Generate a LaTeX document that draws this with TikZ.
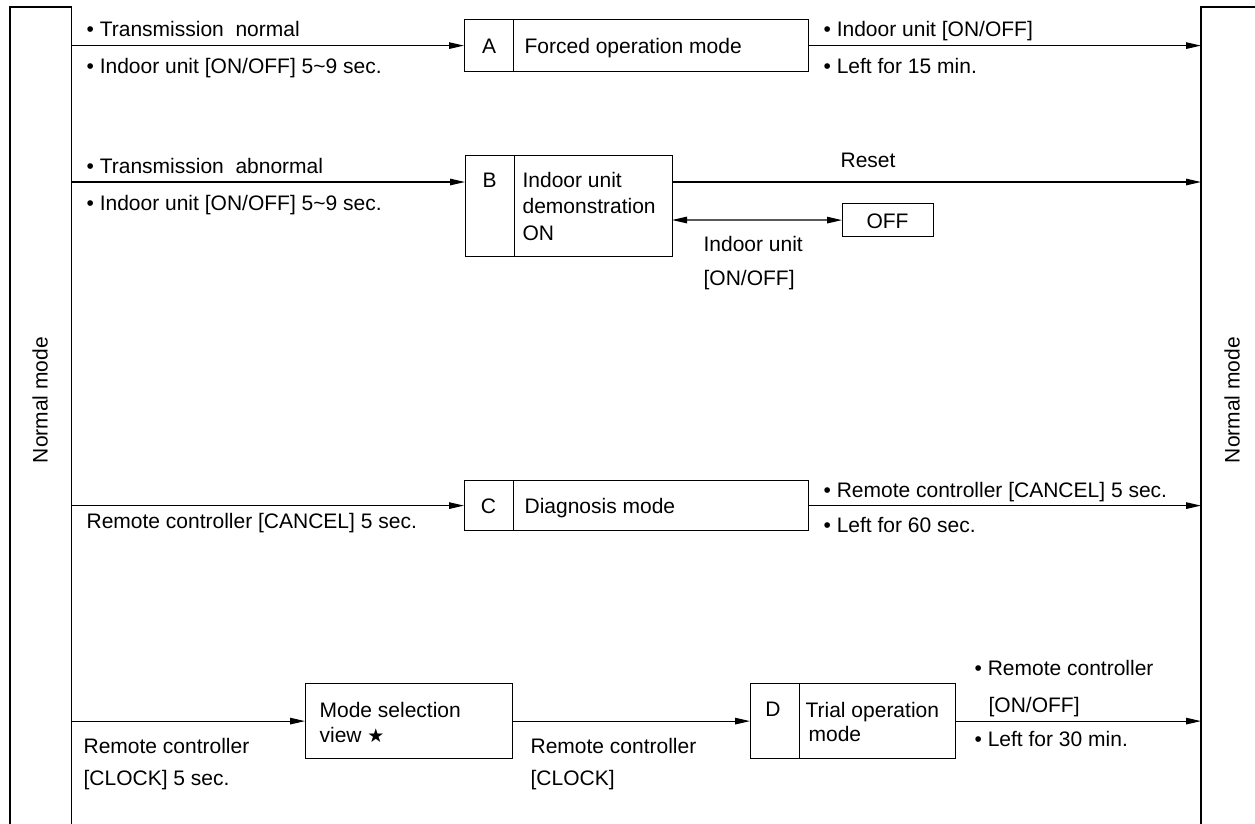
\documentclass[tikz,border=0pt]{standalone}
\usepackage{fontspec}
\setmainfont{Liberation Sans}
\newfontfamily\symfont{DejaVu Sans}
\usetikzlibrary{arrows.meta}
\begin{document}
\begin{tikzpicture}[x=1pt,y=-1pt, line width=1.2pt,
 every node/.style={font=\fontsize{21}{25}\selectfont, inner sep=0pt},
 box/.style={draw, anchor=north west},
 lbl/.style={anchor=base west},
 ctr/.style={anchor=base},
 arr/.style={-{Triangle[length=15pt,width=6.5pt]}},
 darr/.style={{Triangle[length=15pt,width=6.5pt]}-{Triangle[length=15pt,width=6.5pt]}}]
\useasboundingbox (0,0) rectangle (1255,823);
% side bars
\node[anchor=north west, minimum width=60pt, minimum height=830pt] (Lbar) at (10,7) {};
\draw (Lbar.south west) -- (Lbar.north west) -- (Lbar.north east) -- (Lbar.south east);
\node[rotate=90] (Ltxt) at (40,400) {Normal mode};
\node[anchor=north west, minimum width=80pt, minimum height=830pt] (Rbar) at (1201,7) {};
\draw (Rbar.south west) -- (Rbar.north west) -- (Rbar.north east);
\node[rotate=90] (Rtxt) at (1232,400) {Normal mode};
% Row A
\node[box, minimum width=49pt, minimum height=52pt] (Ak) at (464,19) {};
\node[box, minimum width=295pt, minimum height=52pt] (Am) at (513,19) {};
\node[ctr] (Al) at (489,53) {A};
\node[lbl] (At) at (524,53) {Forced operation mode};
\draw[arr] (Lbar.east |- Ak.west) -- (Ak.west);
\draw[arr] (Am.east) -- (Am.east -| Rbar.west);
\node[lbl] (a1) at (86,36) {• Transmission\ \ normal};
\node[lbl] (a2) at (86,73) {• Indoor unit [ON/OFF] 5\textasciitilde 9 sec.};
\node[lbl] (a3) at (823,36) {• Indoor unit [ON/OFF]};
\node[lbl] (a4) at (823,73) {• Left for 15 min.};
% Row B
\node[box, minimum width=49pt, minimum height=101pt] (Bk) at (465,155) {};
\node[box, minimum width=158pt, minimum height=101pt] (Bm) at (514,155) {};
\node[ctr] (Bl) at (489.5,187) {B};
\node[lbl] (Bt1) at (522,187) {Indoor unit};
\node[lbl] (Bt2) at (522,213) {demonstration};
\node[lbl] (Bt3) at (522,240) {ON};
\coordinate (Bin) at (465,182);
\coordinate (Bout) at (672,182);
\coordinate (Bdbl) at (672,220);
\node[box, minimum width=91pt, minimum height=33pt] (OFF) at (842,203) {};
\node[ctr] (OFFt) at (887.5,228) {OFF};
\draw[arr] (Lbar.east |- Bin) -- (Bin);
\draw[arr] (Bout) -- (Bout -| Rbar.west);
\draw[darr] (Bdbl) -- (OFF.west);
\node[lbl] (b1) at (86,173) {• Transmission\ \ abnormal};
\node[lbl] (b2) at (86,210) {• Indoor unit [ON/OFF] 5\textasciitilde 9 sec.};
\node[lbl] (b3) at (840,167) {Reset};
\node[lbl] (b4) at (703,251) {Indoor unit};
\node[lbl] (b5) at (703,285) {[ON/OFF]};
% Row C
\node[box, minimum width=49pt, minimum height=50pt] (Ck) at (464,480) {};
\node[box, minimum width=295pt, minimum height=50pt] (Cm) at (513,480) {};
\node[ctr] (Cl) at (488.5,513) {C};
\node[lbl] (Ct) at (524,513) {Diagnosis mode};
\draw[arr] (Lbar.east |- Ck.west) -- (Ck.west);
\draw[arr] (Cm.east) -- (Cm.east -| Rbar.west);
\node[lbl] (c1) at (86,528) {Remote controller [CANCEL] 5 sec.};
\node[lbl] (c2) at (823,497) {• Remote controller [CANCEL] 5 sec.};
\node[lbl] (c3) at (823,532) {• Left for 60 sec.};
% Row D
\node[box, minimum width=207pt, minimum height=75pt] (M) at (305,683) {};
\node[lbl] (Mt1) at (319,717) {Mode selection};
\node[lbl] (Mt2) at (319,742) {view {\symfont\fontsize{19}{21}\selectfont ★}};
\node[box, minimum width=49pt, minimum height=75pt] (Dk) at (750,683) {};
\node[box, minimum width=156pt, minimum height=75pt] (Dm) at (799,683) {};
\node[ctr] (Dl) at (773,716) {D};
\node[lbl] (Dt1) at (805,717) {Trial operation};
\node[lbl] (Dt2) at (808,741) {mode};
\draw[arr] (Lbar.east |- M.west) -- (M.west);
\draw[arr] (M.east) -- (M.east -| Dk.west);
\draw[arr] (Dm.east) -- (Dm.east -| Rbar.west);
\node[lbl] (d1) at (83,753) {Remote controller};
\node[lbl] (d2) at (83,785) {[CLOCK] 5 sec.};
\node[lbl] (d3) at (530,753) {Remote controller};
\node[lbl] (d4) at (530,785) {[CLOCK]};
\node[lbl] (d5) at (974,675) {• Remote controller};
\node[lbl] (d6) at (988,712) {[ON/OFF]};
\node[lbl] (d7) at (974,746) {• Left for 30 min.};
\end{tikzpicture}
\end{document}
